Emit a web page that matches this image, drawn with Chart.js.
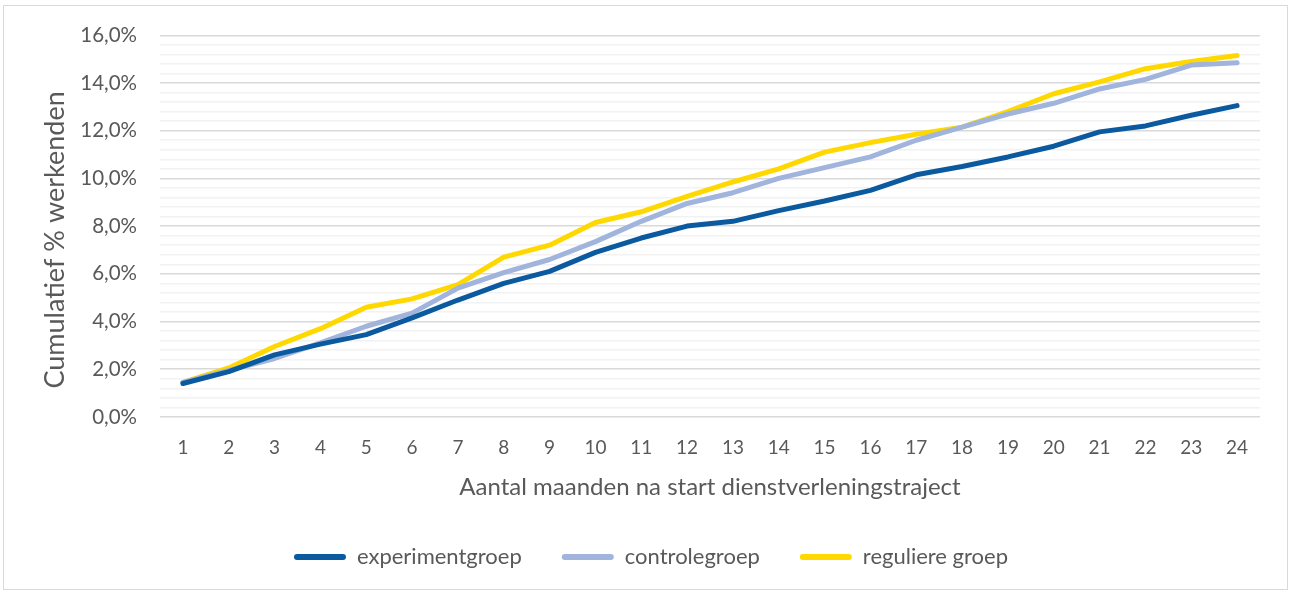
<!DOCTYPE html>
<html>
<head>
<meta charset="utf-8">
<script src="https://cdn.jsdelivr.net/npm/chart.js@4.4.1/dist/chart.umd.min.js"></script>
<style>
    html, body { margin: 0; padding: 0; background: #fff; }
    #wrap { position: relative; width: 1290px; height: 592px; }
    #frame { position: absolute; left: 3px; top: 5px; width: 1283px; height: 583px; border: 1px solid #d9d9d9; pointer-events: none; }
</style>
</head>
<body>
<div id="wrap">
    <canvas id="chart" width="1290" height="592"></canvas>
    <div id="frame"></div>
</div>
<script>
const maanden = ['1','2','3','4','5','6','7','8','9','10','11','12','13','14','15','16','17','18','19','20','21','22','23','24'];
const experimentgroep = [1.4, 1.9, 2.6, 3.05, 3.45, 4.15, 4.9, 5.6, 6.1, 6.9, 7.5, 8.0, 8.2, 8.65, 9.05, 9.5, 10.15, 10.5, 10.9, 11.35, 11.95, 12.2, 12.65, 13.05];
const controlegroep = [1.45, 1.95, 2.45, 3.1, 3.8, 4.35, 5.4, 6.05, 6.6, 7.35, 8.2, 8.95, 9.4, 10.0, 10.45, 10.9, 11.6, 12.15, 12.7, 13.15, 13.75, 14.15, 14.75, 14.85];
const regulieregroep = [1.45, 2.05, 2.95, 3.7, 4.6, 4.95, 5.55, 6.7, 7.2, 8.15, 8.6, 9.25, 9.85, 10.4, 11.1, 11.5, 11.85, 12.15, 12.8, 13.55, 14.05, 14.6, 14.9, 15.15];

const textColor = '#595959';
const fontFam = 'Lato, "Open Sans", sans-serif';

function isMajor(v) {
    return Math.abs(v / 2 - Math.round(v / 2)) < 1e-6;
}

function lineSet(label, data, color) {
    return {
        label: label,
        data: data,
        borderColor: color,
        backgroundColor: color,
        borderWidth: 5,
        borderCapStyle: 'round',
        borderJoinStyle: 'round',
        pointRadius: 0,
        tension: 0
    };
}

// legend is centred on the whole frame in the original, not on the plot
const legendShift = {
    id: 'legendShift',
    afterLayout(chart) {
        chart.legend.left += 21;
        chart.legend.right += 21;
    }
};

const ctx = document.getElementById('chart').getContext('2d');
new Chart(ctx, {
    type: 'line',
    data: {
        labels: maanden,
        datasets: [
            lineSet('experimentgroep', experimentgroep, '#0b5aa0'),
            lineSet('controlegroep', controlegroep, '#a0b4dc'),
            lineSet('reguliere groep', regulieregroep, '#ffd800')
        ]
    },
    options: {
        responsive: false,
        animation: false,
        layout: { padding: { left: 0, right: 30, top: 23, bottom: 14 } },
        plugins: {
            tooltip: { enabled: false },
            legend: {
                position: 'bottom',
                labels: {
                    color: textColor,
                    font: { family: fontFam, size: 22 },
                    boxWidth: 52,
                    boxHeight: 6,
                    padding: 40,
                    generateLabels: chart => chart.data.datasets.map((ds, i) => ({
                        text: ds.label,
                        fillStyle: ds.borderColor,
                        strokeStyle: ds.borderColor,
                        lineWidth: 0,
                        fontColor: textColor,
                        datasetIndex: i,
                        borderRadius: 3
                    })),
                    useBorderRadius: true,
                    borderRadius: 3
                }
            }
        },
        scales: {
            x: {
                offset: true,
                grid: { display: false },
                border: { display: false },
                ticks: {
                    color: textColor,
                    font: { family: fontFam, size: 19 },
                    padding: 12,
                    maxRotation: 0
                },
                title: {
                    display: true,
                    text: 'Aantal maanden na start dienstverleningstraject',
                    color: textColor,
                    font: { family: fontFam, size: 24 },
                    padding: { top: 1.5, bottom: 4 }
                }
            },
            y: {
                min: 0,
                max: 16,
                afterFit: scale => { scale.width = 160; },
                border: { display: false },
                grid: {
                    drawTicks: false,
                    color: c => isMajor(c.tick.value) ? '#d9d9d9' : '#f2f2f2',
                    lineWidth: 1.5
                },
                ticks: {
                    stepSize: 0.4,
                    autoSkip: false,
                    color: textColor,
                    font: { family: fontFam, size: 20.5 },
                    padding: 23,
                    callback: v => isMajor(v) ? v.toFixed(1).replace('.', ',') + '%' : ''
                },
                title: {
                    display: true,
                    // trailing spaces nudge the rotated title down a bit, like the original
                    text: 'Cumulatief % werkenden\u00a0\u00a0\u00a0\u00a0',
                    color: textColor,
                    font: { family: fontFam, size: 27 },
                    padding: { top: 39, bottom: 0 }
                }
            }
        }
    },
    plugins: [legendShift]
});
</script>
</body>
</html>
